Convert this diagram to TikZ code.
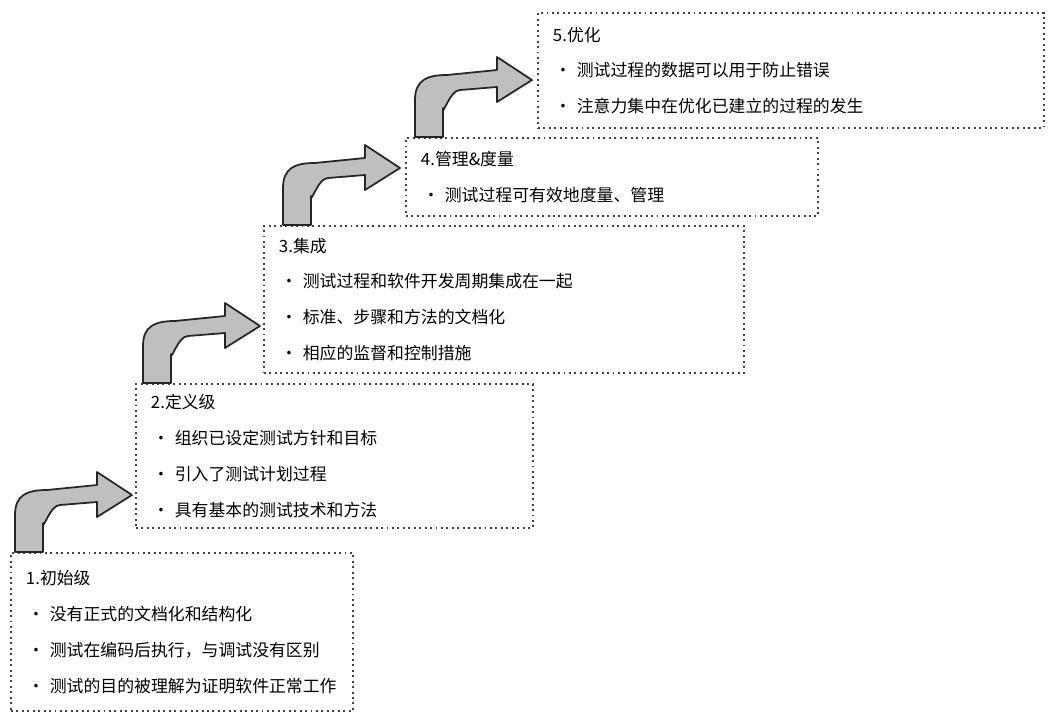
\documentclass[tikz,border=0pt]{standalone}
\usepackage{fontspec}
\setmainfont{Noto Sans CJK SC}
\usetikzlibrary{positioning}
\tikzset{
	stage/.style = {rectangle, draw=black!75, dotted, line width=1.1pt, anchor=north west,
		inner xsep=0.3cm, inner ysep=0pt, align=left,
		font=\fontsize{9.6}{20.4}\selectfont},
	steparrow/.style = {draw=black!85, fill=black!25, line width=1pt, line join=round}
}
\newcommand\bul{\mbox{\hspace{1pt}•\hspace{3pt}}}
% curved step arrow, base = bottom left corner of the shaft
\newcommand\stepto[1]{%
	\draw [steparrow] (#1) -- ++(0,-37) .. controls ++(0,-20) and ++(-20,0) .. ++(32,-25)
		-- ++(50,-5) -- ++(0,-13) -- ++(35,23) -- ++(-35,22) -- ++(0,-15)
		-- ++(-37,3) .. controls ++(-10,0) and ++(0,8) .. ++(-17,18) -- ++(0,29) -- cycle;}

\begin{document}
\begin{tikzpicture}[x=0.02cm, y=-0.02cm]
\useasboundingbox (0,0) rectangle (1054,717);

% stage boxes
\node (initial) [stage, minimum width=342*0.02cm, minimum height=158*0.02cm, text width=342*0.02cm-0.6cm] at (10,552)
	{1.初始级\\\bul 没有正式的文档化和结构化\\\bul 测试在编码后执行，与调试没有区别\\\bul 测试的目的被理解为证明软件正常工作};
\node (defined) [stage, minimum width=397*0.02cm, minimum height=144*0.02cm, text width=397*0.02cm-0.6cm] at (135,383)
	{2.定义级\\\bul 组织已设定测试方针和目标\\\bul 引入了测试计划过程\\\bul 具有基本的测试技术和方法};
\node (integrated) [stage, minimum width=480*0.02cm, minimum height=147*0.02cm, text width=480*0.02cm-0.6cm] at (263,225)
	{3.集成\\\bul 测试过程和软件开发周期集成在一起\\\bul 标准、步骤和方法的文档化\\\bul 相应的监督和控制措施};
\node (managed) [stage, minimum width=412*0.02cm, minimum height=78*0.02cm, text width=412*0.02cm-0.6cm] at (405,137)
	{4.管理\&度量\\\bul 测试过程可有效地度量、管理};
\node (optimized) [stage, minimum width=506*0.02cm, minimum height=115*0.02cm, text width=506*0.02cm-0.6cm] at (537,12)
	{5.优化\\\bul 测试过程的数据可以用于防止错误\\\bul 注意力集中在优化已建立的过程的发生};

% arrows between the stages
\coordinate (a1) at ([xshift=5*0.02cm]initial.north west);
\coordinate (a2) at ([xshift=8*0.02cm]defined.north west);
\coordinate (a3) at ([xshift=20*0.02cm]integrated.north west);
\coordinate (a4) at ([xshift=10*0.02cm]managed.north west);
\stepto{a1}
\stepto{a2}
\stepto{a3}
\stepto{a4}
\end{tikzpicture}
\end{document}
